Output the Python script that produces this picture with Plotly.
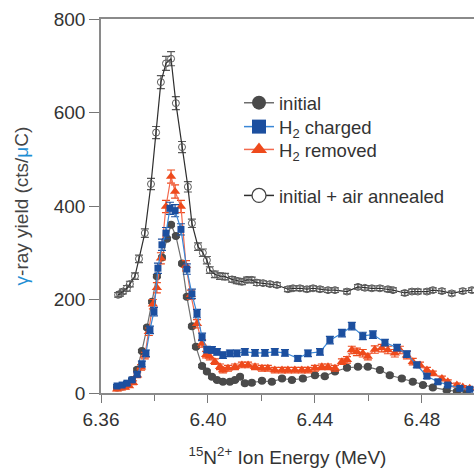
import plotly.graph_objects as go

# ---------------- data ----------------
# initial (filled grey circles)
init_e = [6.3660, 6.3679, 6.3697, 6.3716, 6.3735, 6.3753, 6.3772, 6.3791, 6.3809, 6.3828,
          6.3847, 6.3862, 6.3880, 6.3903, 6.3921, 6.3940, 6.3955, 6.3978, 6.3996, 6.4015,
          6.4034, 6.4056, 6.4082, 6.4101, 6.4120, 6.4138, 6.4164, 6.4202, 6.4239, 6.4277,
          6.4314, 6.4355, 6.4400, 6.4437, 6.4475, 6.4520, 6.4561, 6.4598, 6.4643, 6.4680,
          6.4725, 6.4766, 6.4804, 6.4841, 6.4893, 6.4931, 6.4968]
init_y = [12, 14, 18, 28, 50, 90, 140, 195, 250, 290,
          330, 360, 336, 277, 206, 143, 99, 58, 46, 35,
          28, 24, 24, 28, 35, 21, 22, 26, 24, 31,
          28, 31, 38, 36, 46, 54, 56, 56, 49, 38,
          31, 24, 17, 12, 6, 3, 1]
init_err = [3] * 47

# H2 charged (blue squares)
chg_e = [6.3660, 6.3679, 6.3697, 6.3716, 6.3735, 6.3753, 6.3768, 6.3783, 6.3798, 6.3813,
         6.3828, 6.3843, 6.3858, 6.3877, 6.3899, 6.3921, 6.3940, 6.3959, 6.3978, 6.3996,
         6.4015, 6.4034, 6.4056, 6.4082, 6.4108, 6.4138, 6.4176, 6.4213, 6.4250, 6.4288,
         6.4336, 6.4374, 6.4419, 6.4456, 6.4501, 6.4538, 6.4579, 6.4617, 6.4662, 6.4707,
         6.4744, 6.4781, 6.4819, 6.4860, 6.4897, 6.4942, 6.4979]
chg_y = [15, 17, 21, 28, 40, 62, 85, 135, 174, 267,
         317, 342, 395, 390, 350, 265, 212, 170, 120, 93,
         92, 88, 81, 85, 85, 88, 86, 86, 88, 86,
         74, 85, 88, 113, 128, 143, 122, 125, 108, 97,
         83, 60, 36, 24, 17, 10, 8]
chg_err = [3, 3, 4, 4, 5, 6, 7, 8, 9, 11,
           12, 12, 13, 13, 12, 11, 10, 9, 8, 7,
           7, 7, 7, 7, 7, 7, 7, 7, 7, 7,
           6, 7, 7, 8, 8, 8, 8, 8, 7, 7,
           7, 6, 5, 4, 3, 3, 3]

# H2 removed (red triangles)
rem_e = [6.3660, 6.3675, 6.3690, 6.3705, 6.3720, 6.3735, 6.3750, 6.3764, 6.3779, 6.3794,
         6.3809, 6.3824, 6.3843, 6.3862, 6.3877, 6.3899, 6.3918, 6.3936, 6.3959, 6.3978,
         6.3993, 6.4007, 6.4026, 6.4045, 6.4056, 6.4075, 6.4101, 6.4127, 6.4150, 6.4176,
         6.4202, 6.4224, 6.4250, 6.4277, 6.4299, 6.4325, 6.4351, 6.4374, 6.4400, 6.4426,
         6.4449, 6.4475, 6.4501, 6.4520, 6.4538, 6.4557, 6.4579, 6.4598, 6.4624, 6.4650,
         6.4673, 6.4699, 6.4718, 6.4744, 6.4766, 6.4793, 6.4819, 6.4841, 6.4875, 6.4897,
         6.4931, 6.4953, 6.4979]
rem_y = [8, 10, 12, 15, 22, 38, 55, 80, 131, 190,
         225, 288, 399, 463, 431, 399, 272, 210, 148, 106,
         82, 78, 67, 56, 49, 53, 56, 60, 60, 56,
         53, 53, 49, 49, 49, 49, 49, 49, 53, 56,
         56, 53, 67, 71, 92, 88, 85, 78, 93, 96,
         92, 85, 92, 81, 67, 60, 49, 42, 31, 24,
         17, 13, 10]
rem_err = [3, 3, 3, 3, 4, 5, 6, 7, 8, 10,
           11, 12, 13, 14, 14, 13, 11, 10, 9, 8,
           7, 7, 6, 6, 6, 6, 6, 6, 6, 6,
           6, 6, 6, 6, 6, 6, 6, 6, 6, 6,
           6, 6, 6, 7, 8, 8, 8, 7, 8, 8,
           8, 8, 8, 8, 7, 6, 6, 5, 5, 4,
           4, 3, 3]

# initial + air annealed (open circles)
air_e = [6.3664, 6.3671, 6.3682, 6.3697, 6.3708, 6.3727, 6.3742, 6.3764, 6.3787, 6.3806,
         6.3824, 6.3843, 6.3862, 6.3880, 6.3903, 6.3925, 6.3940, 6.3963, 6.3981, 6.3996,
         6.4007, 6.4026, 6.4045, 6.4064, 6.4090, 6.4108, 6.4127, 6.4146, 6.4164, 6.4183,
         6.4206, 6.4232, 6.4258, 6.4299, 6.4318, 6.4344, 6.4370, 6.4393, 6.4419, 6.4449,
         6.4475, 6.4520, 6.4561, 6.4587, 6.4613, 6.4643, 6.4673, 6.4692, 6.4736, 6.4763,
         6.4785, 6.4819, 6.4841, 6.4875, 6.4912, 6.4953, 6.4987]
air_y = [210, 212, 217, 224, 233, 250, 287, 342, 447, 557,
         665, 705, 715, 620, 526, 441, 363, 313, 300, 284,
         263, 254, 250, 249, 243, 240, 238, 242, 242, 236,
         235, 233, 231, 222, 224, 224, 222, 224, 222, 220,
         220, 217, 227, 225, 224, 224, 222, 220, 214, 217,
         217, 217, 220, 218, 213, 218, 220]
air_err = [5, 5, 5, 6, 6, 7, 8, 9, 12, 13,
           14, 15, 15, 14, 12, 11, 9, 8, 8, 8,
           7, 7, 7, 7, 6, 6, 6, 6, 6, 6,
           5, 5, 5, 5, 5, 5, 5, 5, 5, 5,
           5, 5, 5, 5, 5, 5, 5, 5, 5, 5,
           5, 5, 5, 5, 5, 5, 5]

x_ticks = [6.36, 6.40, 6.44, 6.48]
x_ticklabels = ["6.36", "6.40", "6.44", "6.48"]
y_ticks = [0, 200, 400, 600, 800]

names = ["initial", "H<sub>2</sub> charged", "H<sub>2</sub> removed", "initial + air annealed"]

# ---------------- styles ----------------
GREY_M, GREY_L = "#4a4a4a", "#6e6e6e"
BLUE_M, BLUE_L = "#1c4f9f", "#3a87d6"
RED_M, RED_L = "#ee4a1c", "#f36a4e"
AIR_M, AIR_L = "#5a5a5a", "#2e2e2e"
FONT = "Liberation Sans, Arial, Helvetica, sans-serif"

fig = go.Figure()


def add_series(x, y, err, mcol, lcol, symbol, size, lw=1.2, mline=None):
    fig.add_trace(go.Scatter(
        x=x, y=y, mode="lines+markers", showlegend=False,
        line=dict(color=lcol, width=lw),
        marker=dict(color=mcol, symbol=symbol, size=size,
                    line=mline if mline else dict(width=0)),
        error_y=dict(type="data", array=err, visible=True,
                     color=mcol, thickness=1.2, width=4),
    ))


add_series(air_e, air_y, air_err, AIR_M, AIR_L, "circle-open", 7,
           lw=1.2, mline=dict(color=AIR_M, width=1))
add_series(init_e, init_y, init_err, GREY_M, GREY_L, "circle", 8)
add_series(rem_e, rem_y, rem_err, RED_M, RED_L, "triangle-up", 9)
add_series(chg_e, chg_y, chg_err, BLUE_M, BLUE_L, "square", 7)

# legend-only traces, one legend each so the rows sit where the reference has them
leg = [
    (names[0], GREY_M, GREY_L, "circle", dict(width=0), "legend", 0.775),
    (names[1], BLUE_M, BLUE_L, "square", dict(width=0), "legend2", 0.711),
    (names[2], RED_M, RED_L, "triangle-up", dict(width=0), "legend3", 0.650),
    (names[3], "white", AIR_L, "circle", dict(color="#444", width=1.3), "legend4", 0.527),
]
legend_layouts = {}
for nm, mc, lc, sym, ml, lg, ypos in leg:
    fig.add_trace(go.Scatter(
        x=[None], y=[None], mode="lines+markers", name=nm, legend=lg,
        line=dict(color=lc, width=1.5),
        marker=dict(color=mc, symbol=sym, size=14, line=ml),
    ))
    legend_layouts[lg] = dict(x=0.37, y=ypos, xanchor="left", yanchor="middle",
                              bgcolor="rgba(0,0,0,0)",
                              font=dict(size=18.5, color="#333333"), itemwidth=30)

fig.update_layout(
    width=474, height=472,
    margin=dict(l=101, r=0, t=19, b=79, autoexpand=False),
    plot_bgcolor="white", paper_bgcolor="white",
    font=dict(family=FONT, size=19, color="#333333"),
    xaxis=dict(
        range=[6.36, 6.4995], tickvals=x_ticks, ticktext=x_ticklabels,
        ticks="outside", ticklen=8, tickwidth=1.3, tickcolor="#777777",
        showline=True, linecolor="#8a8a8a", linewidth=1.5, mirror=True,
        showgrid=False, zeroline=False, automargin=False,
        minor=dict(dtick=0.02, tick0=6.36, ticks="outside", ticklen=6,
                   tickwidth=1.3, tickcolor="#777777", showgrid=False),
        title=dict(text="<sup>15</sup>N<sup>2+</sup> Ion Energy (MeV)",
                   font=dict(size=19, color="#333333"), standoff=22),
    ),
    yaxis=dict(
        range=[0, 800], tickvals=y_ticks,
        ticks="outside", ticklen=10, tickwidth=1.3, tickcolor="#777777",
        showline=True, linecolor="#8a8a8a", linewidth=1.5,
        showgrid=False, zeroline=False, automargin=False,
        title=dict(text="<span style='color:#1f8fd4'>γ</span>-ray yield (cts/<span style='color:#1f8fd4'>μ</span>C)",
                   font=dict(size=19, color="#444444"), standoff=20),
    ),
    **legend_layouts,
)

fig.write_html("out.html", config={"displayModeBar": False},
               post_script="document.body.style.margin='0';document.body.style.padding='0';")
